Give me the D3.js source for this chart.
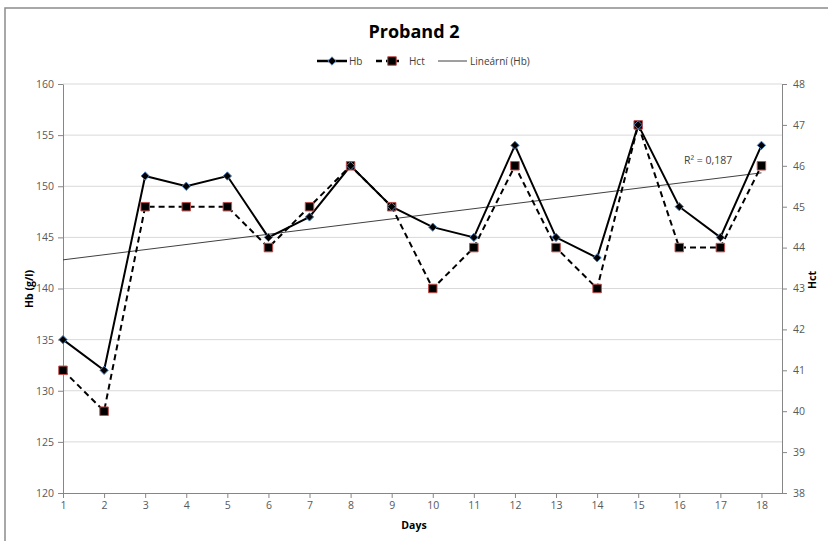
<!DOCTYPE html>
<html>
<head>
<meta charset="utf-8">
<script src="https://cdn.jsdelivr.net/npm/d3@7"></script>
<style>
  body { margin: 0; background: #fff; }
  svg text { font-family: "Liberation Sans Narrow", "Open Sans", "Liberation Sans", sans-serif; }
</style>
</head>
<body>
<div id="chart"></div>
<script>
// data
const days = [1, 2, 3, 4, 5, 6, 7, 8, 9, 10, 11, 12, 13, 14, 15, 16, 17, 18]
const hb = [135, 132, 151, 150, 151, 145, 147, 152, 148, 146, 145, 154, 145, 143, 156, 148, 145, 154]
const hct = [41, 40, 45, 45, 45, 44, 45, 46, 45, 43, 44, 46, 44, 43, 47, 44, 44, 46]
const hbTicks = [120, 125, 130, 135, 140, 145, 150, 155, 160]
const hctTicks = [38, 39, 40, 41, 42, 43, 44, 45, 46, 47, 48]

const width = 828, height = 541
const plotL = 63, plotR = 782, plotT = 84, plotB = 493

const svg = d3.select('#chart').append('svg')
  .attr('width', width)
  .attr('height', height)

// chart border (cut off at right / bottom like the screenshot)
svg.append('path')
  .attr('d', `M5,${height + 5}V8H${width + 5}`)
  .attr('fill', 'none')
  .attr('stroke', '#8c8c8c')
  .attr('stroke-width', 1.5)

var x = d3.scaleLinear().domain([1, 18.5]).range([plotL, plotR])
var yL = d3.scaleLinear().domain([120, 160]).range([plotB, plotT])
var yR = d3.scaleLinear().domain([38, 48]).range([plotB, plotT])

// gridlines
svg.append('g').selectAll('line')
  .data(hbTicks.slice(1))
  .enter().append('line')
  .attr('x1', plotL).attr('x2', plotR)
  .attr('y1', d => yL(d)).attr('y2', d => yL(d))
  .attr('stroke', '#d9d9d9')

function styleAxis (g) {
  g.select('.domain').attr('stroke', '#868686')
  g.selectAll('.tick line').attr('stroke', '#868686')
  g.selectAll('.tick text').attr('fill', '#595959').style('font-size', '10.5px')
}

svg.append('g')
  .attr('transform', `translate(${plotL},0)`)
  .call(d3.axisLeft(yL).tickValues(hbTicks).tickSize(5).tickSizeOuter(0).tickPadding(4))
  .call(styleAxis)

svg.append('g')
  .attr('transform', `translate(${plotR},0)`)
  .call(d3.axisRight(yR).tickValues(hctTicks).tickSize(5).tickSizeOuter(0).tickPadding(6))
  .call(styleAxis)

var xAxis = svg.append('g')
  .attr('transform', `translate(0,${plotB})`)
  .call(d3.axisBottom(x).tickValues(days).tickFormat(d3.format('d')).tickSize(5).tickSizeOuter(0).tickPadding(4))
  .call(styleAxis)
xAxis.select('.domain').attr('d', `M${plotL},0.5H${plotR}`)

// linear trend of Hb
var mx = d3.mean(days), my = d3.mean(hb)
var sxy = d3.sum(days, (d, i) => (d - mx) * (hb[i] - my))
var sxx = d3.sum(days, d => (d - mx) * (d - mx))
var syy = d3.sum(hb, v => (v - my) * (v - my))
var slope = sxy / sxx, icpt = my - slope * mx
var r2 = sxy * sxy / (sxx * syy)

svg.append('line')
  .attr('x1', x(days[0])).attr('y1', yL(icpt + slope * days[0]))
  .attr('x2', x(days[days.length - 1])).attr('y2', yL(icpt + slope * days[days.length - 1]))
  .attr('stroke', '#404040')
  .attr('stroke-width', 1)

svg.append('text')
  .attr('x', 684).attr('y', 164)
  .attr('fill', '#404040')
  .style('font-size', '10.5px')
  .text('R² = ' + r2.toFixed(3).replace('.', ','))

// Hct line (dashed, right axis)
var lineHct = d3.line().x((d, i) => x(days[i])).y(d => yR(d))
svg.append('path')
  .datum(hct)
  .attr('d', lineHct)
  .attr('fill', 'none')
  .attr('stroke', '#000')
  .attr('stroke-width', 2)
  .attr('stroke-dasharray', '6,4')

// Hb line (solid, left axis)
var lineHb = d3.line().x((d, i) => x(days[i])).y(d => yL(d))
svg.append('path')
  .datum(hb)
  .attr('d', lineHb)
  .attr('fill', 'none')
  .attr('stroke', '#000')
  .attr('stroke-width', 2)

var square = d3.symbol().type(d3.symbolSquare).size(72)
var diamond = d3.symbol().type(d3.symbolDiamond2).size(44)

svg.append('g').selectAll('path')
  .data(hct)
  .enter().append('path')
  .attr('d', square)
  .attr('transform', (d, i) => `translate(${x(days[i])},${yR(d)})`)
  .attr('fill', '#000')
  .attr('stroke', '#c0504d')
  .attr('stroke-width', 1)

svg.append('g').selectAll('path')
  .data(hb)
  .enter().append('path')
  .attr('d', diamond)
  .attr('transform', (d, i) => `translate(${x(days[i])},${yL(d)})`)
  .attr('fill', '#000')
  .attr('stroke', '#4f81bd')
  .attr('stroke-width', 1)

// title + axis titles
svg.append('text')
  .attr('x', 414).attr('y', 38)
  .attr('text-anchor', 'middle')
  .style('font-size', '18px').style('font-weight', 'bold')
  .attr('fill', '#000')
  .text('Proband 2')

svg.append('text')
  .attr('transform', 'translate(33,289) rotate(-90)')
  .attr('text-anchor', 'middle')
  .style('font-size', '10.5px').style('font-weight', 'bold')
  .text('Hb (g/l)')

svg.append('text')
  .attr('transform', 'translate(816,280) rotate(-90)')
  .attr('text-anchor', 'middle')
  .style('font-size', '10.5px').style('font-weight', 'bold')
  .text('Hct')

svg.append('text')
  .attr('x', 414).attr('y', 529)
  .attr('text-anchor', 'middle')
  .style('font-size', '10.5px').style('font-weight', 'bold')
  .text('Days')

// legend
var lg = svg.append('g').attr('transform', 'translate(0,61)')
lg.append('line').attr('x1', 317).attr('x2', 347).attr('stroke', '#000').attr('stroke-width', 2.5)
lg.append('path').attr('d', diamond).attr('transform', 'translate(332,0)').attr('fill', '#000').attr('stroke', '#4f81bd')
lg.append('text').attr('x', 349).attr('y', 3.5).style('font-size', '10px').attr('fill', '#404040').text('Hb')

lg.append('line').attr('x1', 376).attr('x2', 399).attr('stroke', '#000').attr('stroke-width', 2.5).attr('stroke-dasharray', '6,4')
lg.append('path').attr('d', square).attr('transform', 'translate(392,0)').attr('fill', '#000').attr('stroke', '#c0504d')
lg.append('text').attr('x', 409).attr('y', 3.5).style('font-size', '10px').attr('fill', '#404040').text('Hct')

lg.append('line').attr('x1', 438).attr('x2', 467).attr('stroke', '#404040').attr('stroke-width', 1)
lg.append('text').attr('x', 470).attr('y', 3.5).style('font-size', '10px').attr('fill', '#404040').text('Lineární (Hb)')
</script>
</body>
</html>
